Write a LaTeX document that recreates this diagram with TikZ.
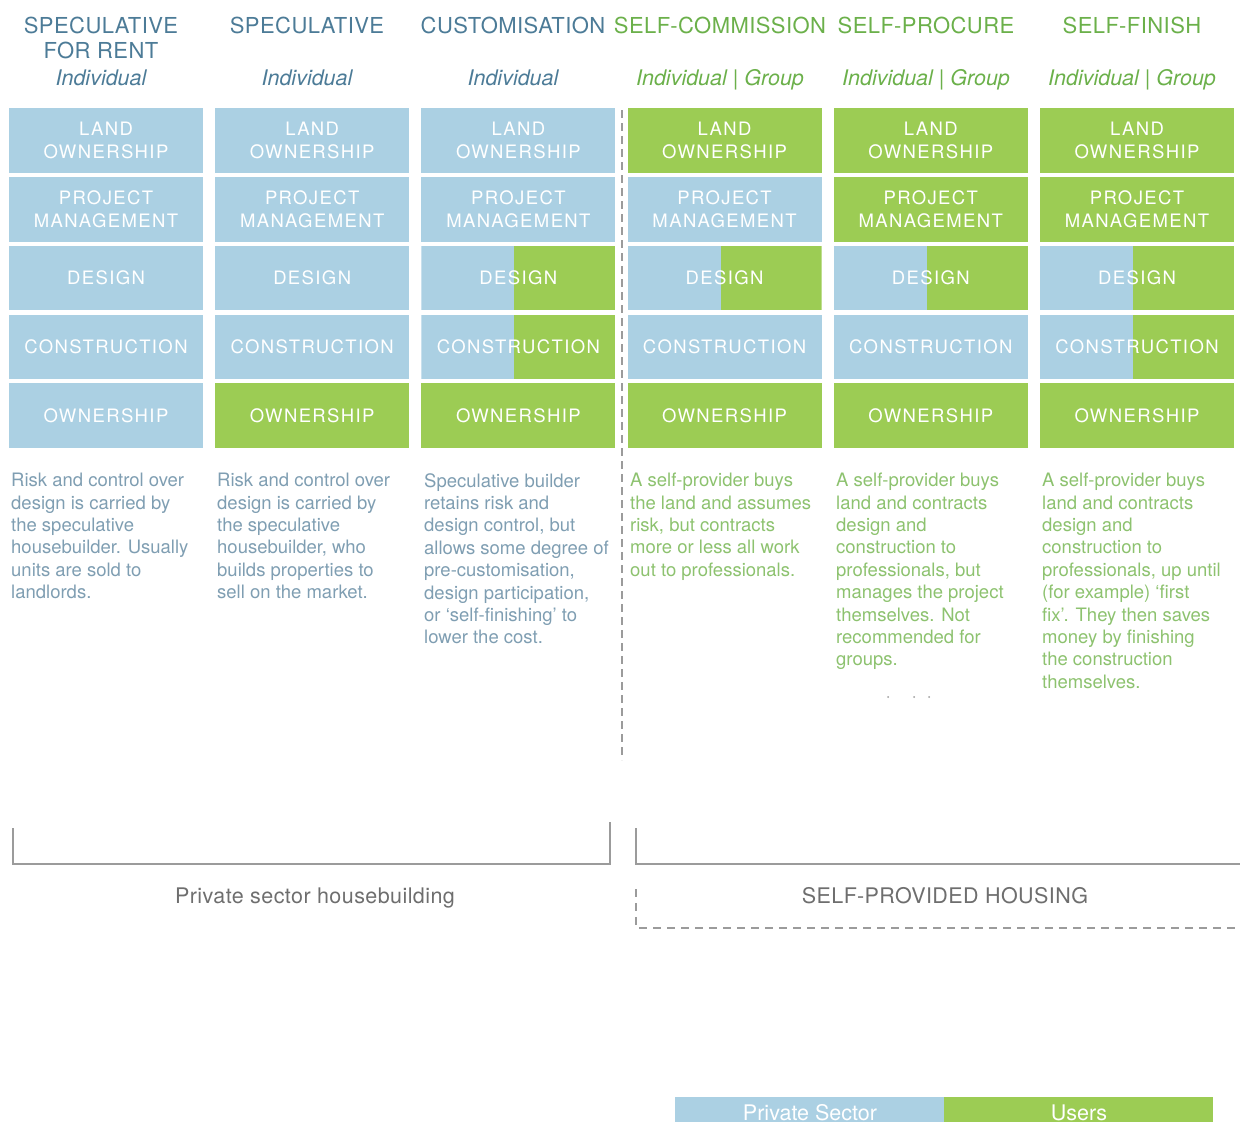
\documentclass[tikz,border=0pt]{standalone}
\usepackage{fontspec}
\setmainfont{TeX Gyre Heros}
\newfontfamily\headfont[LetterSpace=2]{TeX Gyre Heros}
\newfontfamily\boxfont[LetterSpace=7.5]{TeX Gyre Heros}
\usetikzlibrary{positioning}

\definecolor{privblue}{HTML}{ABD0E3}
\definecolor{usergreen}{HTML}{9CCC54}
\definecolor{headblue}{HTML}{4C7B97}
\definecolor{headgreen}{HTML}{6BB04A}
\definecolor{textblue}{HTML}{7F9EB2}
\definecolor{textgreen}{HTML}{8DC26F}
\definecolor{linegray}{HTML}{9B9B9B}
\definecolor{labelgray}{HTML}{6E6E6E}

\begin{document}
\begin{tikzpicture}
[x=1pt, y=-1pt,
% STYLES
% headings above each column
head/.style={anchor=base, inner sep=0pt, font=\headfont\fontsize{22}{26}\selectfont},
who/.style={anchor=base, inner sep=0pt, font=\itshape\fontsize{21.5}{26}\selectfont},
% the stage boxes, by who carries them
box/.style={rectangle, inner sep=0pt, outer sep=0pt, minimum width=194pt, minimum height=64.5pt, text=white, align=center, font=\boxfont\fontsize{18.5}{23}\selectfont},
priv/.style={box, fill=privblue},
user/.style={box, fill=usergreen},
mixed/.style={box, path picture={
  \fill[privblue] (path picture bounding box.south west) rectangle ([xshift=-4pt]path picture bounding box.north);
  \fill[usergreen] ([xshift=-4pt]path picture bounding box.south) rectangle (path picture bounding box.north east);}},
% the text under each column
note/.style={anchor=north west, inner sep=0pt, align=left, font=\fontsize{18.5}{22.4}\selectfont},
group/.style={anchor=base, inner sep=0pt, text=labelgray, font=\headfont\fontsize{21.5}{26}\selectfont},
legend/.style={anchor=base, inner sep=0pt, text=white, font=\fontsize{21.5}{26}\selectfont}]

\useasboundingbox (0,0) rectangle (1240,1122);

% Draw headings
\node [head, text=headblue] (rent-title) at (101,33) {SPECULATIVE};
\node [head, text=headblue] (rent-title2) at (101,58) {FOR RENT};
\node [who, text=headblue] (rent-who) at (101,85) {Individual};

\node [head, text=headblue] (spec-title) at (307,33) {SPECULATIVE};
\node [who, text=headblue] (spec-who) at (307,85) {Individual};

\node [head, text=headblue] (cust-title) at (513,33) {CUSTOMISATION};
\node [who, text=headblue] (cust-who) at (513,85) {Individual};

\node [head, text=headgreen] (comm-title) at (720,33) {SELF-COMMISSION};
\node [who, text=headgreen] (comm-who) at (720,85) {Individual | Group};

\node [head, text=headgreen] (proc-title) at (926,33) {SELF-PROCURE};
\node [who, text=headgreen] (proc-who) at (926,85) {Individual | Group};

\node [head, text=headgreen] (fin-title) at (1132,33) {SELF-FINISH};
\node [who, text=headgreen] (fin-who) at (1132,85) {Individual | Group};

%%%%%%%%%%%%%%%

% speculative for rent
\node [priv] (rent-land) at (106,140.5) {LAND\\OWNERSHIP};
\node [priv, below=4.25pt of rent-land] (rent-pm) {PROJECT\\MANAGEMENT};
\node [priv, below=4.25pt of rent-pm] (rent-des) {DESIGN};
\node [priv, below=4.25pt of rent-des] (rent-con) {CONSTRUCTION};
\node [priv, below=4.25pt of rent-con] (rent-own) {OWNERSHIP};

% speculative
\node [priv, right=12.2pt of rent-land] (spec-land) {LAND\\OWNERSHIP};
\node [priv, below=4.25pt of spec-land] (spec-pm) {PROJECT\\MANAGEMENT};
\node [priv, below=4.25pt of spec-pm] (spec-des) {DESIGN};
\node [priv, below=4.25pt of spec-des] (spec-con) {CONSTRUCTION};
\node [user, below=4.25pt of spec-con] (spec-own) {OWNERSHIP};

% customisation
\node [priv, right=12.2pt of spec-land] (cust-land) {LAND\\OWNERSHIP};
\node [priv, below=4.25pt of cust-land] (cust-pm) {PROJECT\\MANAGEMENT};
\node [mixed, below=4.25pt of cust-pm] (cust-des) {DESIGN};
\node [mixed, below=4.25pt of cust-des] (cust-con) {CONSTRUCTION};
\node [user, below=4.25pt of cust-con] (cust-own) {OWNERSHIP};

% self-commission
\node [user, right=12.2pt of cust-land] (comm-land) {LAND\\OWNERSHIP};
\node [priv, below=4.25pt of comm-land] (comm-pm) {PROJECT\\MANAGEMENT};
\node [mixed, below=4.25pt of comm-pm] (comm-des) {DESIGN};
\node [priv, below=4.25pt of comm-des] (comm-con) {CONSTRUCTION};
\node [user, below=4.25pt of comm-con] (comm-own) {OWNERSHIP};

% self-procure
\node [user, right=12.2pt of comm-land] (proc-land) {LAND\\OWNERSHIP};
\node [user, below=4.25pt of proc-land] (proc-pm) {PROJECT\\MANAGEMENT};
\node [mixed, below=4.25pt of proc-pm] (proc-des) {DESIGN};
\node [priv, below=4.25pt of proc-des] (proc-con) {CONSTRUCTION};
\node [user, below=4.25pt of proc-con] (proc-own) {OWNERSHIP};

% self-finish
\node [user, right=12.2pt of proc-land] (fin-land) {LAND\\OWNERSHIP};
\node [user, below=4.25pt of fin-land] (fin-pm) {PROJECT\\MANAGEMENT};
\node [mixed, below=4.25pt of fin-pm] (fin-des) {DESIGN};
\node [mixed, below=4.25pt of fin-des] (fin-con) {CONSTRUCTION};
\node [user, below=4.25pt of fin-con] (fin-own) {OWNERSHIP};

%%%%%%%%%%%%%%%

% notes
\node [note, text=textblue] (rent-note) at (11,473) {Risk and control over\\
design is carried by\\
the speculative\\
housebuilder. Usually\\
units are sold to\\
landlords.};

\node [note, text=textblue] (spec-note) at (217,473) {Risk and control over\\
design is carried by\\
the speculative\\
housebuilder, who\\
builds properties to\\
sell on the market.};

\node [note, text=textblue] (cust-note) at (424,473) {Speculative builder\\
retains risk and\\
design control, but\\
allows some degree of\\
pre-customisation,\\
design participation,\\
or `self-finishing' to\\
lower the cost.};

\node [note, text=textgreen] (comm-note) at (630,473) {A self-provider buys\\
the land and assumes\\
risk, but contracts\\
more or less all work\\
out to professionals.};

\node [note, text=textgreen] (proc-note) at (836,473) {A self-provider buys\\
land and contracts\\
design and\\
construction to\\
professionals, but\\
manages the project\\
themselves. Not\\
recommended for\\
groups.};

\node [note, text=textgreen] (fin-note) at (1042,473) {A self-provider buys\\
land and contracts\\
design and\\
construction to\\
professionals, up until\\
(for example) `first\\
fix'. They then saves\\
money by finishing\\
the construction\\
themselves.};

\fill [linegray] (888,697) circle (1pt) (914,697) circle (1pt) (929,697) circle (1pt);

% divider
\draw [linegray, line width=1.5pt, dash pattern=on 8pt off 5pt] (622,110) -- (622,760);

%%%%%%%%%%%%%%%%

% groupings
\draw [linegray, line width=2pt] (13,828) -- (13,864) -- (610,864) -- (610,822);
\draw [linegray, line width=2pt] (636,828) -- (636,864) -- (1240,864);
\draw [linegray, line width=2pt, dash pattern=on 8pt off 6pt] (636,889) -- (636,928) -- (1240,928);
\node [group] (private-group) at (315,903) {Private sector housebuilding};
\node [group] (self-group) at (945,903) {SELF-PROVIDED HOUSING};

% legend
\fill [privblue] (675,1097) rectangle (944,1126);
\fill [usergreen] (944,1097) rectangle (1213,1126);
\node [legend] (legend-priv) at (810,1120) {Private Sector};
\node [legend] (legend-user) at (1079,1120) {Users};

\end{tikzpicture}
\end{document}
